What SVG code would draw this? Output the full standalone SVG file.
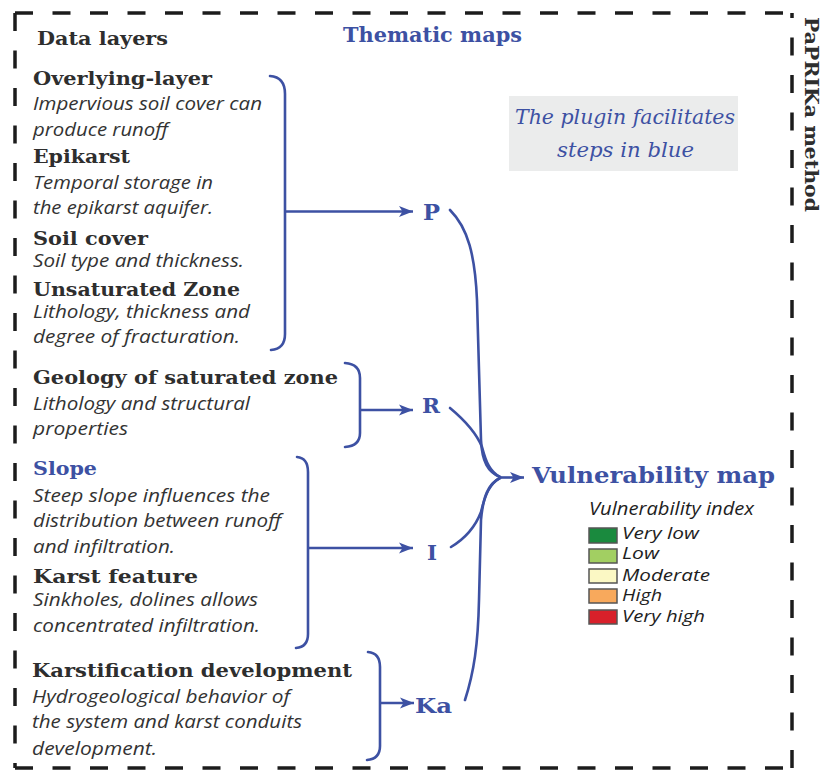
<svg xmlns="http://www.w3.org/2000/svg" width="824" height="772" viewBox="0 0 824 772">
<style>
.h{font-family:"DejaVu Serif",serif;font-weight:bold;font-size:19px;fill:#2e2e2e}
.hb{font-family:"DejaVu Serif",serif;font-weight:bold;fill:#3d51a3}
.d{font-family:"Open Sans","Noto Sans",sans-serif;font-style:italic;font-size:18px;fill:#333}
.br{fill:none;stroke:#3d51a3;stroke-width:2.6;stroke-linecap:round}
.ln{fill:none;stroke:#3d51a3;stroke-width:2.6}
.bd{fill:none;stroke:#1c1c1c;stroke-width:3.5;stroke-dasharray:18 19.5}
.lg{stroke:#555;stroke-width:1.5}
.li{font-family:"Open Sans","Noto Sans",sans-serif;font-style:italic;font-size:18px;fill:#1e1e1e}
.ll{font-family:"Open Sans","Noto Sans",sans-serif;font-style:italic;font-size:15.5px;fill:#1e1e1e}
</style>
<defs>
<marker id="ah" markerUnits="userSpaceOnUse" markerWidth="16" markerHeight="14" refX="14" refY="7" orient="auto">
<path d="M0,1.5 L14,7 L0,12.5 L3.5,7 Z" fill="#3d51a3"/>
</marker>
</defs>
<g id="border">
<path class="bd" d="M15,13 H792"/>
<path class="bd" d="M15,13 V768"/>
<path class="bd" d="M15,768 H792"/>
<path class="bd" d="M792,768 V13"/>
</g>
<g id="titles">
<text class="h" x="37" y="45" font-size="20" textLength="131" lengthAdjust="spacingAndGlyphs">Data layers</text>
<text class="hb" x="343" y="42" font-size="20" textLength="179" lengthAdjust="spacingAndGlyphs">Thematic maps</text>
<text class="h" transform="translate(805,17) rotate(90)" font-size="20" textLength="195" lengthAdjust="spacingAndGlyphs">PaPRIKa method</text>
</g>
<g id="note">
<rect x="509" y="96" width="229" height="75" fill="#ebecec"/>
<text x="625" y="124" text-anchor="middle" font-family="DejaVu Serif,serif" font-style="italic" font-size="21" fill="#3d51a3" textLength="220" lengthAdjust="spacingAndGlyphs">The plugin facilitates</text>
<text x="625.5" y="157" text-anchor="middle" font-family="DejaVu Serif,serif" font-style="italic" font-size="21" fill="#3d51a3" textLength="137" lengthAdjust="spacingAndGlyphs">steps in blue</text>
</g>
<g id="layers-P">
<text class="h" x="33" y="85" textLength="179" lengthAdjust="spacingAndGlyphs">Overlying-layer</text>
<text class="d" x="33" y="110" textLength="229" lengthAdjust="spacingAndGlyphs">Impervious soil cover can</text>
<text class="d" x="33" y="136" textLength="135" lengthAdjust="spacingAndGlyphs">produce runoff</text>
<text class="h" x="33" y="163" textLength="97" lengthAdjust="spacingAndGlyphs">Epikarst</text>
<text class="d" x="33" y="189" textLength="180" lengthAdjust="spacingAndGlyphs">Temporal storage in</text>
<text class="d" x="33" y="214" textLength="180" lengthAdjust="spacingAndGlyphs">the epikarst aquifer.</text>
<text class="h" x="33" y="245" textLength="115" lengthAdjust="spacingAndGlyphs">Soil cover</text>
<text class="d" x="33" y="267" textLength="211" lengthAdjust="spacingAndGlyphs">Soil type and thickness.</text>
<text class="h" x="33" y="296" textLength="207" lengthAdjust="spacingAndGlyphs">Unsaturated Zone</text>
<text class="d" x="33" y="318" textLength="217" lengthAdjust="spacingAndGlyphs">Lithology, thickness and</text>
<text class="d" x="33" y="343" textLength="207" lengthAdjust="spacingAndGlyphs">degree of fracturation.</text>
</g>
<g id="layers-R">
<text class="h" x="33" y="384" textLength="305" lengthAdjust="spacingAndGlyphs">Geology of saturated zone</text>
<text class="d" x="33" y="410" textLength="217" lengthAdjust="spacingAndGlyphs">Lithology and structural</text>
<text class="d" x="33" y="435" textLength="95" lengthAdjust="spacingAndGlyphs">properties</text>
</g>
<g id="layers-I">
<text class="h" x="33" y="475" style="fill:#3d51a3" textLength="64" lengthAdjust="spacingAndGlyphs">Slope</text>
<text class="d" x="33" y="502" textLength="237" lengthAdjust="spacingAndGlyphs">Steep slope influences the</text>
<text class="d" x="33" y="527" textLength="248" lengthAdjust="spacingAndGlyphs">distribution between runoff</text>
<text class="d" x="33" y="553" textLength="142" lengthAdjust="spacingAndGlyphs">and infiltration.</text>
<text class="h" x="33" y="583" textLength="165" lengthAdjust="spacingAndGlyphs">Karst feature</text>
<text class="d" x="33" y="606" textLength="225" lengthAdjust="spacingAndGlyphs">Sinkholes, dolines allows</text>
<text class="d" x="33" y="632" textLength="227" lengthAdjust="spacingAndGlyphs">concentrated infiltration.</text>
</g>
<g id="layers-Ka">
<text class="h" x="32" y="677" textLength="320" lengthAdjust="spacingAndGlyphs">Karstification development</text>
<text class="d" x="32" y="703" textLength="258" lengthAdjust="spacingAndGlyphs">Hydrogeological behavior of</text>
<text class="d" x="32" y="728" textLength="270" lengthAdjust="spacingAndGlyphs">the system and karst conduits</text>
<text class="d" x="32" y="755" textLength="125" lengthAdjust="spacingAndGlyphs">development.</text>
</g>
<g id="node-P"><text class="hb" x="423" y="220" font-size="22" textLength="17" lengthAdjust="spacingAndGlyphs">P</text></g>
<g id="node-R"><text class="hb" x="422" y="413" font-size="21" textLength="18" lengthAdjust="spacingAndGlyphs">R</text></g>
<g id="node-I"><text class="hb" x="427" y="560" font-size="21" textLength="10" lengthAdjust="spacingAndGlyphs">I</text></g>
<g id="node-Ka"><text class="hb" x="415" y="713" font-size="21" textLength="37" lengthAdjust="spacingAndGlyphs">Ka</text></g>
<g id="node-V">
<text class="hb" x="532" y="483" font-size="22" textLength="243" lengthAdjust="spacingAndGlyphs">Vulnerability map</text>
<text class="li" x="589" y="515" textLength="165" lengthAdjust="spacingAndGlyphs">Vulnerability index</text>
<rect class="lg" x="589" y="528" width="28" height="15" fill="#1a8a3e"/>
<rect class="lg" x="589" y="549" width="28" height="14" fill="#a2cf62"/>
<rect class="lg" x="589" y="569" width="28" height="14" fill="#fbf8c4"/>
<rect class="lg" x="589" y="589" width="28" height="14" fill="#f8a95c"/>
<rect class="lg" x="589" y="610" width="28" height="14" fill="#d8202a"/>
<text class="ll" x="622" y="539" textLength="77" lengthAdjust="spacingAndGlyphs">Very low</text>
<text class="ll" x="622" y="559" textLength="37" lengthAdjust="spacingAndGlyphs">Low</text>
<text class="ll" x="622" y="581" textLength="88" lengthAdjust="spacingAndGlyphs">Moderate</text>
<text class="ll" x="622" y="601" textLength="40" lengthAdjust="spacingAndGlyphs">High</text>
<text class="ll" x="622" y="622" textLength="83" lengthAdjust="spacingAndGlyphs">Very high</text>
</g>
<g id="connectors">
<path class="br" d="M270,76 Q285,77 285,94 L285,334 Q285,349 271,350"/>
<path class="ln" d="M285,211.5 L413,211.5" marker-end="url(#ah)"/>
<path class="br" d="M345,363 Q360,364 360,378 L360,433 Q360,446 345,447"/>
<path class="ln" d="M360,410 L413,410" marker-end="url(#ah)"/>
<path class="br" d="M297,457 Q308,458 308,472 L308,634 Q308,647 296,648"/>
<path class="ln" d="M308,548 L413,548" marker-end="url(#ah)"/>
<path class="br" d="M368,652 Q380,653 380,667 L380,746 Q380,759 367,760"/>
<path class="ln" d="M380,703 L414,703" marker-end="url(#ah)"/>
<path class="br" d="M450,210 C468,228 475,255 477,300 L481,440 C482,462 488,472 500,477"/>
<path class="br" d="M450,408 C462,418 476,432 482,447 C486,462 490,472 500,477"/>
<path class="br" d="M451,547 C466,538 476,525 481,512 C485,495 490,483 500,478"/>
<path class="br" d="M465,700 C474,672 478,645 479,600 L481,520 C483,497 488,484 500,478"/>
<path class="ln" d="M498,477.5 L524,477.5" marker-end="url(#ah)"/>
</g>
</svg>
